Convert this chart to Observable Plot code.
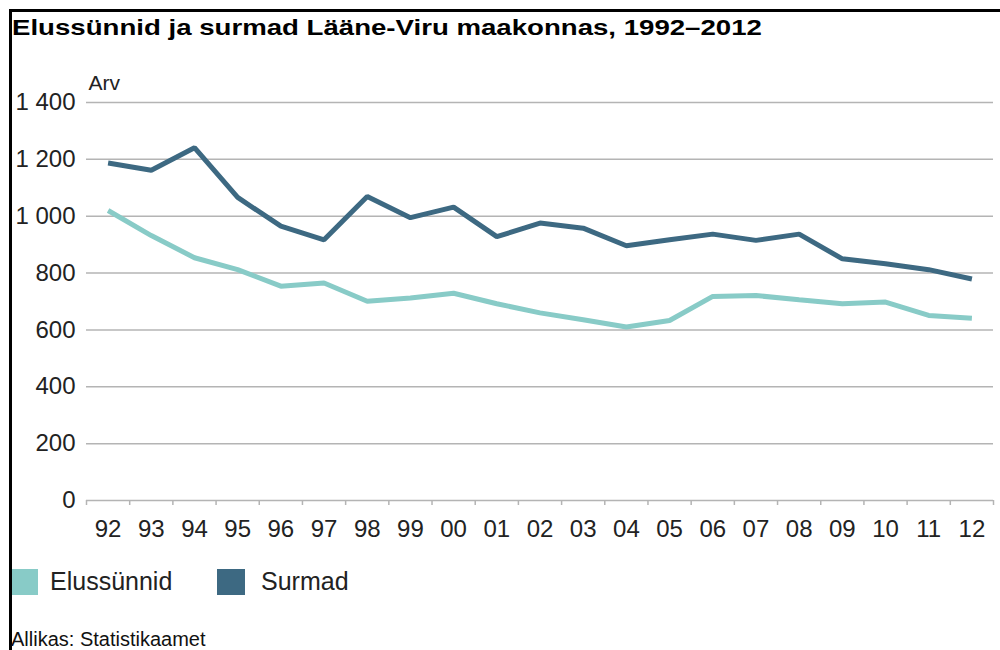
<!DOCTYPE html>
<html>
<head>
<meta charset="utf-8">
<script src="https://cdn.jsdelivr.net/npm/d3@7"></script>
<script src="https://cdn.jsdelivr.net/npm/@observablehq/plot@0.6"></script>
<style>
  body { margin: 0; background: #fff; font-family: "Liberation Sans", Arial, sans-serif; }
  #frame { position: absolute; left: 9px; top: 9px; width: 991px; height: 641px; border-top: 3px solid #000; border-left: 3px solid #000; }
  #title { position: absolute; left: 12px; top: 15px; font-weight: bold; font-size: 22px; color: #000; white-space: nowrap; line-height: 26px; transform: scaleX(1.255); transform-origin: 0 0; }
  #chart { position: absolute; left: 0; top: 60px; }
  .leg { position: absolute; top: 567px; display: flex; align-items: center; font-size: 25px; color: #222; }
  .sw { width: 26px; height: 26px; margin-right: 12px; }
  #leg1 .sw { width: 28px; margin-right: 16px; }
  #source { position: absolute; left: 11px; top: 628px; font-size: 20px; color: #111; white-space: nowrap; }
</style>
</head>
<body>
<div id="frame"></div>
<div id="title"></div>
<div id="chart"></div>
<div class="leg" id="leg0" style="left:12px"></div>
<div class="leg" id="leg1" style="left:217px"></div>
<div id="source"></div>
<script>
const titleText = "Elussünnid ja surmad Lääne-Viru maakonnas, 1992–2012";
const sourceText = "Allikas: Statistikaamet";
const yLabel = "Arv";
const years = [1992,1993,1994,1995,1996,1997,1998,1999,2000,2001,2002,2003,2004,2005,2006,2007,2008,2009,2010,2011,2012];
const seriesNames = ["Elussünnid", "Surmad"];
const seriesColors = ["#88cbc7", "#3d6982"];
const births = [1020,932,854,812,754,765,701,712,729,692,660,636,610,633,718,721,706,692,698,651,641];
const deaths = [1187,1162,1241,1066,965,917,1069,995,1032,928,976,958,896,917,937,915,937,850,833,812,779];
const yTicks = [0,200,400,600,800,1000,1200,1400];

document.getElementById("title").textContent = titleText;
document.getElementById("source").textContent = sourceText;

const data = [];
years.forEach((yr, i) => {
  data.push({year: yr, value: births[i], series: seriesNames[0]});
  data.push({year: yr, value: deaths[i], series: seriesNames[1]});
});
const boundaries = years.map(y => y - 0.5).concat([years[years.length - 1] + 0.5]);
const fmtY = d => d3.format(",")(d).replace(/,/g, " ");
const fmtX = d => String(d % 100).padStart(2, "0");

const chart = Plot.plot({
  width: 1000,
  height: 500,
  marginLeft: 86,
  marginRight: 7,
  marginTop: 42,
  marginBottom: 60,
  style: {fontFamily: "'Liberation Sans', Arial, sans-serif", background: "transparent", color: "#222"},
  x: {domain: [boundaries[0], boundaries[boundaries.length - 1]]},
  y: {domain: [0, 1400]},
  color: {domain: seriesNames, range: seriesColors},
  marks: [
    Plot.gridY(yTicks, {stroke: "#b4b4b4", strokeOpacity: 1, strokeWidth: 1.5}),
    Plot.axisY(yTicks, {tickSize: 0, tickPadding: 11, tickFormat: fmtY, fontSize: 24, label: null, fill: "#222"}),
    Plot.axisX(boundaries, {tickSize: 5, tickFormat: () => "", stroke: "#b4b4b4", strokeWidth: 1.5, label: null}),
    Plot.axisX(years, {tickSize: 0, tickPadding: 19, tickFormat: fmtX, fontSize: 24, label: null, fill: "#222"}),
    Plot.line(data, {x: "year", y: "value", z: "series", stroke: "series", strokeWidth: 5, strokeLinejoin: "miter", strokeLinecap: "butt"}),
    Plot.text([yLabel], {frameAnchor: "top-left", textAnchor: "start", lineAnchor: "bottom", dx: 2, dy: -13, fontSize: 21, fill: "#222"})
  ]
});
document.getElementById("chart").appendChild(chart);

seriesNames.forEach((name, i) => {
  const el = document.getElementById("leg" + i);
  const sw = document.createElement("div");
  sw.className = "sw";
  sw.style.background = seriesColors[i];
  const t = document.createElement("span");
  t.textContent = name;
  el.appendChild(sw);
  el.appendChild(t);
});
</script>
</body>
</html>
